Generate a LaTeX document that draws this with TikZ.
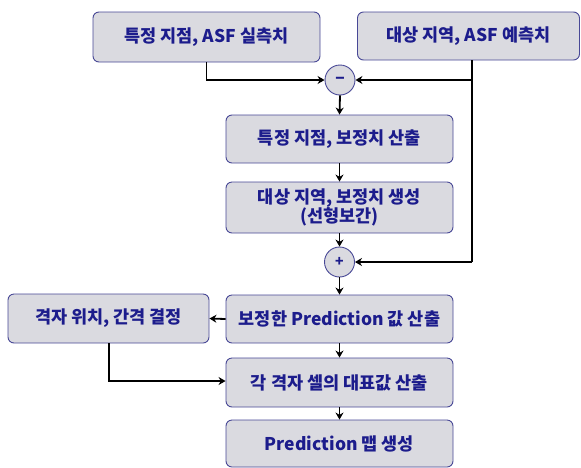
\documentclass[tikz,border=0pt]{standalone}
\usepackage{fontspec}
\newfontfamily\kr{Noto Sans CJK KR}
\usetikzlibrary{arrows.meta,positioning}
\definecolor{boxfill}{RGB}{218,218,224}
\definecolor{boxline}{RGB}{72,72,150}
\definecolor{boxtext}{RGB}{28,28,140}
\tikzset{
  stepbox/.style={draw=boxline, line width=0.9pt, fill=boxfill, rounded corners=6pt,
    text=boxtext, font=\kr\bfseries\fontsize{17.5}{19}\selectfont, align=center,
    inner sep=0pt},
  opcircle/.style={circle, draw=boxline, line width=0.9pt, fill=boxfill, minimum size=30pt,
    inner sep=0pt, text=boxtext, font=\kr\bfseries\fontsize{14}{16}\selectfont},
  flow/.style={line width=1.8pt, -{Stealth[length=7pt,width=8pt]}},
  plain/.style={line width=1.8pt}
}
\begin{document}
\begin{tikzpicture}[x=1pt,y=-1pt]
\useasboundingbox (0,0) rectangle (581,467);
% input measurements and predictions
\node[stepbox, minimum width=227pt, minimum height=50pt] (b1) at (206.5,37) {특정 지점, ASF 실측치};
\node[stepbox, minimum width=222pt, minimum height=48pt] (b2) at (468.5,36) {대상 지역, ASF 예측치};
% difference
\node[opcircle, font=\kr\bfseries\fontsize{18}{18}\selectfont] (minus) at (340,80) {–};
\node[stepbox, minimum width=227pt, minimum height=48pt] (b3) at (339.5,139) {특정 지점, 보정치 산출};
\node[stepbox, minimum width=227pt, minimum height=51pt] (b4) at (339.5,207.5) {대상 지역, 보정치 생성\\(선형보간)};
% sum
\node[opcircle] (plus) at (339.5,262) {+};
\node[stepbox, minimum width=227pt, minimum height=48pt] (b5) at (339.5,319) {보정한 Prediction 값 산출};
\node[stepbox, minimum width=201pt, minimum height=49pt] (b6) at (108.5,318.5) {격자 위치, 간격 결정};
\node[stepbox, minimum width=227pt, minimum height=49pt] (b7) at (339.5,382.5) {각 격자 셀의 대표값 산출};
\node[stepbox, minimum width=227pt, minimum height=47pt] (b8) at (339.5,443.5) {Prediction 맵 생성};

% branch point below the prediction box
\coordinate (tap) at (472,80);
\coordinate (tapend) at (472,262);
\coordinate (gridturn) at (109,381);

\draw[flow] (b1.south) |- (minus.west);
\draw[plain] (b2.south -| tap) -- (tapend);
\draw[flow] (tap) -- (minus.east);
\draw[flow] (tapend) -- (plus.east);
\draw[flow] (minus.south) -- (b3.north);
\draw[flow] (b3.south) -- (b4.north);
\draw[flow] (b4.south) -- (plus.north);
\draw[flow] (plus.south) -- (b5.north);
\draw[flow] (b5.west) -- (b6.east);
\draw[flow] (b5.south) -- (b7.north);
\draw[flow] (b6.south -| gridturn) -- (gridturn) -- (gridturn -| b7.west);
\draw[flow] (b7.south) -- (b8.north);
\end{tikzpicture}
\end{document}
